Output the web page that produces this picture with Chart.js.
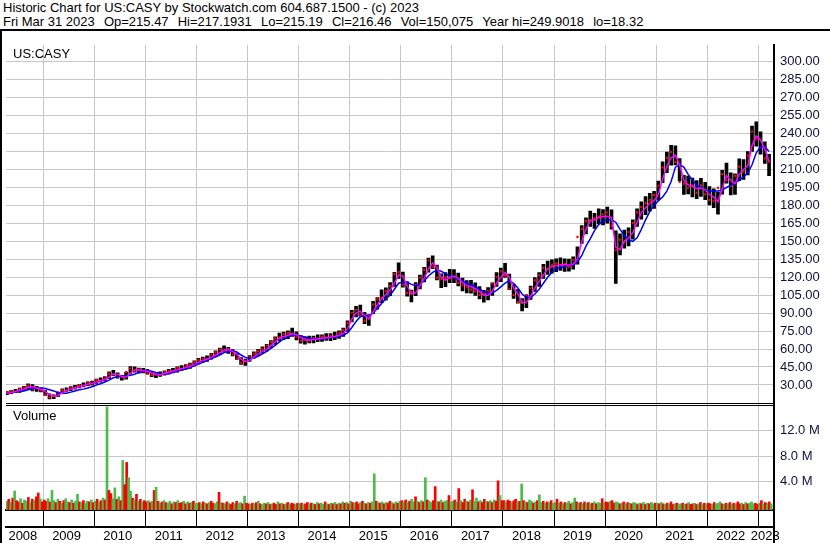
<!doctype html>
<html lang="en">
<head>
<meta charset="utf-8">
<title>Historic Chart for US:CASY</title>
<script src="https://cdn.jsdelivr.net/npm/chart.js@4.4.1/dist/chart.umd.min.js"></script>
<style>
  html, body { margin: 0; padding: 0; background: #fff; }
  body { width: 830px; height: 543px; overflow: hidden; font-family: "Liberation Sans", Arial, sans-serif; }
  #hdr { height: 31px; box-sizing: border-box; border-bottom: 2px solid #000; padding: 1px 0 0 3px;
         font-size: 13px; line-height: 14px; color: #000; white-space: nowrap; }
  #hdr .f { margin-right: 5.5px; }
  #wrap { border-left: 2px solid #000; width: 828px; height: 512px; }
  canvas { display: block; }
</style>
</head>
<body>
<div id="hdr">
  <div>Historic Chart for US:CASY by Stockwatch.com 604.687.1500 - (c) 2023</div>
  <div><span class="f">Fri Mar 31 2023</span> <span class="f">Op=215.47</span> <span class="f">Hi=217.1931</span> <span class="f">Lo=215.19</span> <span class="f">Cl=216.46</span> <span class="f">Vol=150,075</span> <span class="f">Year hi=249.9018</span> <span class="f">lo=18.32</span></div>
</div>
<div id="wrap"><canvas id="c" width="828" height="512"></canvas></div>
<script>
// monthly bars, April 2008 .. March 2023 (one row per year)
const lows = [
  21.8, 22.6, 23.5, 23.8, 25.2, 26.3, 25.0, 24.6, 24.2,
  21.2, 18.4, 18.6, 20.3, 23.4, 24.5, 25.2, 26.4, 27.5, 28.4, 29.3, 29.8,
  31.2, 32.3, 33.4, 35.2, 37.8, 35.6, 33.9, 34.8, 39.1, 40.6, 39.8, 40.1,
  39.0, 37.0, 36.1, 37.2, 38.1, 39.0, 40.1, 40.7, 41.9, 43.0, 43.8, 45.9,
  47.6, 48.8, 49.7, 51.6, 53.5, 55.4, 57.3, 56.4, 54.2, 51.3, 47.2, 46.4,
  49.6, 52.4, 54.5, 56.4, 58.3, 61.0, 63.9, 66.8, 67.8, 68.7, 70.5, 67.6,
  64.8, 64.0, 65.1, 65.2, 66.1, 66.3, 67.2, 67.0, 67.9, 68.8, 70.6, 74.8,
  82.6, 86.8, 87.4, 81.2, 79.8, 89.6, 93.4, 98.7, 100.8, 104.6, 112.3, 119.1,
  111.6, 104.2, 99.4, 104.6, 110.3, 116.1, 124.2, 127.2, 117.8, 111.3, 112.1, 115.4,
  115.4, 112.8, 108.6, 106.9, 106.7, 104.8, 101.9, 99.1, 101.0, 104.8, 112.4, 116.3,
  119.8, 109.6, 102.3, 98.4, 91.8, 94.6, 101.4, 108.2, 112.3, 119.1, 122.4, 123.5,
  124.6, 125.7, 124.8, 125.1, 126.8, 130.9, 148.2, 156.1, 162.4, 160.8, 164.6, 163.8,
  165.2, 160.1, 114.8, 138.6, 144.3, 146.2, 151.8, 162.4, 168.6, 172.3, 175.2, 177.4,
  184.3, 199.1, 207.4, 213.6, 213.8, 200.4, 189.3, 189.6, 187.2, 185.7, 187.6, 184.8,
  180.4, 178.1, 172.6, 189.4, 198.5, 188.7, 189.3, 200.6, 201.8, 205.4, 225.2, 229.6,
  222.8, 215.1, 204.9
];
const highs = [
  24.5, 25.4, 26.4, 27.3, 28.8, 30.9, 30.2, 28.8, 27.6,
  25.4, 22.6, 21.8, 24.1, 26.7, 27.6, 28.6, 29.7, 30.6, 31.8, 32.6, 33.2,
  34.8, 35.9, 37.0, 41.0, 42.3, 40.2, 38.1, 40.8, 45.3, 45.1, 44.0, 43.9,
  43.0, 41.2, 40.0, 40.9, 41.8, 43.0, 43.9, 45.2, 46.2, 47.1, 48.2, 50.2,
  52.3, 53.3, 54.4, 56.5, 58.6, 60.7, 62.6, 61.5, 59.6, 56.6, 52.8, 51.6,
  54.5, 57.7, 59.8, 61.8, 63.9, 67.1, 70.2, 73.3, 74.2, 75.3, 77.6, 74.3,
  71.2, 70.1, 70.9, 70.9, 71.9, 71.8, 72.9, 73.0, 74.1, 75.3, 77.5, 83.6,
  92.4, 95.6, 96.8, 90.7, 88.6, 99.8, 102.9, 109.4, 111.2, 115.6, 124.1, 132.0,
  124.3, 116.1, 109.2, 115.6, 121.8, 128.3, 136.1, 137.8, 130.1, 122.8, 123.9, 126.6,
  126.5, 123.4, 119.3, 117.2, 117.4, 115.3, 112.2, 109.0, 111.3, 115.3, 123.8, 127.6,
  131.6, 122.6, 113.8, 109.6, 102.1, 105.4, 112.7, 119.8, 123.9, 130.8, 133.4, 134.6,
  135.3, 136.2, 135.4, 135.2, 137.1, 145.4, 163.1, 169.7, 175.3, 173.4, 177.2, 176.5,
  178.6, 176.4, 158.7, 156.3, 159.4, 161.3, 167.9, 177.2, 183.1, 187.4, 190.2, 191.8,
  200.3, 216.4, 224.6, 230.2, 229.8, 219.2, 205.1, 204.6, 202.9, 200.8, 202.6, 199.4,
  195.7, 193.8, 191.2, 209.3, 215.4, 207.2, 206.4, 218.9, 218.4, 225.1, 246.3, 249.9,
  241.6, 233.2, 222.7
];
const closes = [
  23.6, 24.9, 24.1, 26.8, 27.9, 29.4, 26.3, 27.2, 25.3,
  21.9, 19.5, 21.1, 23.6, 25.8, 25.2, 28.1, 27.4, 30.0, 29.1, 32.0, 31.0,
  34.1, 33.6, 36.2, 39.5, 38.9, 36.4, 36.8, 40.7, 43.6, 41.5, 42.8, 41.2,
  39.8, 38.2, 39.4, 38.6, 40.8, 41.9, 41.3, 44.2, 43.4, 46.1, 47.0, 49.3,
  50.8, 52.1, 51.3, 55.2, 57.4, 59.6, 58.7, 60.2, 55.4, 52.1, 48.5, 50.3,
  53.8, 56.2, 58.4, 60.1, 62.7, 65.8, 68.9, 69.5, 72.6, 73.4, 72.1, 69.8,
  66.9, 68.4, 67.1, 69.2, 68.3, 70.4, 69.1, 71.3, 70.2, 73.6, 75.8, 81.9,
  90.3, 92.8, 88.4, 83.7, 87.9, 97.2, 101.6, 103.1, 108.4, 112.7, 122.6, 124.3,
  113.8, 106.7, 107.9, 113.4, 119.8, 126.4, 134.2, 128.9, 119.6, 118.4, 120.1, 119.2,
  119.7, 115.3, 113.1, 111.4, 109.6, 108.2, 105.3, 106.1, 108.7, 114.8, 120.4, 124.9,
  121.3, 110.4, 105.2, 99.3, 98.6, 104.9, 110.8, 117.4, 121.6, 127.8, 126.9, 130.4,
  131.6, 129.8, 131.2, 128.9, 134.6, 153.7, 160.4, 166.9, 167.8, 169.5, 170.8, 172.4,
  174.1, 162.8, 142.6, 151.3, 149.7, 157.8, 165.4, 174.2, 178.6, 181.9, 184.4, 188.6,
  196.4, 211.8, 219.7, 224.8, 216.3, 199.6, 198.2, 194.8, 196.6, 190.7, 196.9, 189.3,
  184.6, 183.8, 194.7, 206.3, 201.2, 196.1, 204.8, 212.4, 207.9, 221.6, 241.8, 235.4,
  228.4, 219.3, 216.46
];
// short (magenta) and long (blue) averages as drawn
const maFast = [
  23, 23.5, 24.5, 25.5, 26.5, 28, 28.5, 27.5, 26.5,
  24.5, 22, 20.5, 21, 23.5, 25.5, 26.5, 27.5, 28.5, 29.5, 30.5, 31.5,
  32.5, 33.5, 34.5, 36.5, 39, 39, 37, 36.5, 40, 42.5, 42.5, 42,
  41.5, 40, 38.5, 38.5, 39.5, 40.5, 41.5, 42.5, 43.5, 44.5, 45.5, 47,
  49, 50.5, 51.5, 53, 55, 57, 59, 59.5, 58, 55.5, 51.5, 49.5,
  50.5, 53.5, 56, 58, 60, 63, 66, 69, 70.5, 71.5, 73, 72,
  69.5, 67.5, 67.5, 68, 68.5, 69, 69.5, 70, 70.5, 71.5, 73, 77,
  85, 90, 91.5, 88, 85, 91, 97, 102, 105.5, 109, 115, 122,
  121, 113, 106, 107, 113, 119, 127, 132, 128, 120, 117.5, 120,
  121, 119, 115.5, 113, 112, 110.5, 108, 105, 105, 108.5, 115, 120,
  124, 120, 111, 106, 99, 99, 104, 111, 116.5, 122, 127, 129,
  129.5, 130.5, 130.5, 130, 131, 135, 150, 160, 167, 168, 170, 170.5,
  171, 170, 145, 143, 150, 153, 157, 166, 174, 178, 182, 184,
  189, 202, 213, 220, 222, 214, 201, 197, 196, 194, 194.5, 193,
  189, 187, 183, 194, 205, 201, 198, 206, 210, 213, 230, 238,
  235, 227, 217
];
const maSlow = [
  23, 23.5, 24, 24.5, 25, 26, 27, 27.5, 27.5,
  27, 26, 25, 23.5, 23, 23, 24, 25, 26, 26.5, 27.5, 28.5,
  30, 31, 32.5, 34, 36, 37, 37.5, 37.5, 38, 39, 40.5, 41.5,
  42, 41.5, 40.5, 39.5, 39, 39.5, 40.5, 41.5, 42.5, 43.5, 44.5, 46,
  47.5, 49, 50.5, 52, 53.5, 55, 57, 58, 58.5, 57.5, 55, 53,
  52, 52.5, 54, 56, 58, 60.5, 63, 66, 68.5, 70, 71.5, 72,
  71, 70, 69, 68.5, 68.5, 68.5, 69, 69.5, 70, 70.5, 71.5, 73.5,
  78, 83, 87, 88, 88, 90, 94, 98, 102, 105, 110, 115,
  116, 116, 114, 113, 114, 117, 121, 124, 126, 125, 123, 121,
  120, 118, 117, 115, 114, 112, 110, 108, 107, 107, 109, 112,
  115, 117, 115, 111, 106, 103, 103, 106, 110, 115, 120, 124,
  127, 128, 129, 130, 130, 133, 138, 146, 152, 159, 164, 167,
  168, 168, 166, 160, 155, 151, 150, 153, 160, 168, 175, 180,
  184, 187, 192, 200, 212, 214, 212, 206, 201, 197, 195, 193,
  192, 192, 192, 193, 195, 197, 199, 201, 204, 207, 214, 224,
  229, 229, 225
];
// volume in millions, two-week bars from April 2008; g = up, r = down
const volumes = [
  0.9, 1.2, 0.7, 1.4, 2.5, 1.0, 0.8, 1.3, 0.6, 1.1, 0.9, 1.5, 0.7, 1.2, 1.0, 1.6, 2.2, 1.3, 0.8,
  1.1, 0.9, 1.3, 0.8, 2.6, 1.0, 0.7, 1.2, 0.9, 0.6, 1.0, 1.3, 0.8, 0.7, 1.1, 0.6, 0.9, 2.0, 0.8, 0.7, 1.0, 0.6, 0.9, 0.8, 1.1, 0.7,
  0.9, 1.2, 0.8, 1.0, 1.4, 1.1, 15.7, 2.6, 2.1, 1.3, 3.0, 1.2, 1.6, 1.0, 7.3, 3.5, 7.0, 4.6, 2.5, 1.4, 1.1, 2.0, 0.9, 1.2, 0.8, 1.0,
  0.8, 1.0, 0.7, 0.9, 2.6, 3.1, 0.9, 0.6, 0.8, 1.0, 0.7, 0.6, 0.9, 0.5, 0.8, 0.7, 1.0, 0.6, 0.7, 0.9, 0.5, 0.8, 0.6, 0.7, 0.9, 0.6,
  0.6, 0.7, 0.5, 0.8, 0.6, 0.5, 0.7, 0.9, 0.6, 0.5, 0.8, 2.3, 0.7, 0.6, 0.5, 0.8, 0.6, 0.4, 0.7, 0.5, 0.9, 0.6, 0.7, 0.5, 1.7, 0.6,
  0.5, 0.4, 0.6, 0.5, 0.7, 0.9, 0.5, 0.4, 0.6, 0.5, 0.7, 0.4, 0.5, 0.6, 0.4, 0.8, 0.5, 0.6, 0.4, 0.5, 0.7, 0.4, 0.6, 0.5, 0.4, 0.6,
  0.5, 0.6, 0.4, 0.5, 0.7, 0.4, 0.6, 0.5, 0.4, 0.7, 0.5, 0.6, 0.4, 0.8, 0.5, 0.4, 0.6, 0.5, 0.7, 0.4, 0.6, 0.5, 0.8, 0.6, 0.7, 0.5,
  0.9, 0.7, 0.6, 0.8, 0.5, 0.7, 0.9, 0.6, 0.5, 0.7, 0.6, 0.8, 5.2, 0.9, 0.7, 0.6, 0.8, 0.5, 0.7, 0.6, 0.9, 0.7, 0.5, 0.8, 0.6, 0.9,
  1.0, 0.8, 1.1, 0.7, 0.9, 1.2, 0.8, 1.6, 0.9, 0.7, 1.0, 0.8, 4.6, 1.1, 0.9, 0.7, 1.0, 3.2, 0.9, 0.8, 1.1, 0.7, 0.9, 1.0, 1.8, 0.8,
  0.9, 1.1, 0.8, 2.9, 1.0, 0.7, 1.2, 0.9, 0.8, 1.1, 2.7, 0.9, 1.4, 0.8, 1.0, 0.7, 1.2, 0.9, 0.8, 1.0, 0.7, 1.1, 0.9, 4.1, 1.8, 1.0,
  1.0, 0.8, 1.1, 0.9, 0.7, 1.0, 1.2, 0.8, 0.9, 3.6, 1.0, 0.8, 0.7, 1.1, 0.9, 0.6, 0.8, 1.0, 1.9, 0.7, 0.9, 0.6, 0.8, 0.7, 1.0, 0.6,
  0.7, 1.2, 0.6, 0.8, 0.5, 0.7, 0.6, 0.9, 0.5, 0.7, 1.4, 0.8, 0.6, 0.7, 0.5, 0.8, 0.6, 0.7, 0.5, 0.6, 0.8, 0.5, 0.7, 0.6, 1.3, 0.7,
  0.8, 0.7, 0.9, 1.0, 0.6, 0.8, 0.7, 0.5, 0.6, 0.8, 0.5, 0.7, 0.6, 0.5, 0.7, 0.6, 0.4, 0.6, 0.5, 0.7, 0.4, 0.6, 0.5, 0.7, 0.5, 0.6,
  0.6, 0.5, 0.7, 0.5, 0.4, 0.6, 0.5, 0.8, 0.4, 0.5, 0.6, 0.4, 0.5, 0.6, 0.4, 0.5, 0.7, 0.4, 0.5, 0.6, 0.4, 0.5, 0.7, 0.4, 0.6, 0.5,
  0.6, 0.5, 0.4, 0.7, 0.5, 0.6, 0.8, 0.5, 0.4, 0.6, 0.5, 0.7, 0.4, 0.6, 0.5, 0.8, 0.5, 0.6, 0.4, 0.7, 0.5, 0.6, 0.8, 0.5, 0.6, 0.4,
  0.6, 1.0, 0.5, 0.7, 0.6, 0.8, 0.5
];
const volDir =
  'grgrgrrgrggrgrgrrgr' +
  'rrgrggrgrgrggrgrggrgrggrgr' +
  'grgrgrgrrggrgrgrrggrgrgrgr' +
  'rgrgrgrgrgrggrgrgrrgrgrgrg' +
  'grgrgrgrrggrgrgrgrrgrggrgr' +
  'rgrgrgrggrgrgrrgrgrgrgrrgr' +
  'grgrrgrgrgrggrgrgrgrgrgrgr' +
  'grgrrgrgrgrggrgrgrgrrgrgrg' +
  'rgrgrggrgrgrgrggrrgrgrggrg' +
  'grgrgrrgrgrggrgrrgrgrgrrgr' +
  'rgrrgrrgrgrgrggrgrggrgrgrg' +
  'grgrgrggrggrgrgrgrgrgrggrg' +
  'rrgrrggrgrgrgrggrgrgrgrggr' +
  'grgrgrgrrgrggrgrgrrgrgrgrg' +
  'rrgrgggrgrgrgrgrrgrgrgggrr' +
  'grgrgrg';

const years = [2008, 2009, 2010, 2011, 2012, 2013, 2014, 2015, 2016, 2017, 2018, 2019, 2020, 2021, 2022, 2023];
const priceTicks = [30, 45, 60, 75, 90, 105, 120, 135, 150, 165, 180, 195, 210, 225, 240, 255, 270, 285, 300];
const volTicks = [4, 8, 12];

const X_MIN = 2008.274, X_MAX = 2023.305;
const MONTH0 = 2008 + 3 / 12;   // first bar: April 2008
const VOL0 = 2008.27;           // first volume bar
const FONT = '"Liberation Sans", Arial, sans-serif';
const GREEN = '#4cbb4c', RED = '#ff0000';

const monthX = (k) => MONTH0 + (k + 0.5) / 12;
const volX = (i) => VOL0 + (i + 0.5) / 26;

const rangePts = lows.map((lo, k) => ({ x: monthX(k), y: [lo, highs[k]] }));
const closePts = closes.map((v, k) => ({ x: monthX(k), y: v }));
const fastPts = maFast.map((v, k) => ({ x: monthX(k), y: v }));
const slowPts = maSlow.map((v, k) => ({ x: monthX(k), y: v }));
const volPts = volumes.map((v, i) => ({ x: volX(i), y: v }));
const volColors = volDir.split('').map((c) => (c === 'g' ? GREEN : RED));

const yearLabelPos = years.map((y) => Math.min(Math.max(y + 0.46, X_MIN + 0.33), X_MAX - 0.17));

// panel dividers, right frame below the plot, panel captions
const decor = {
  id: 'decor',
  afterDraw(chart) {
    const { ctx, chartArea: a, scales } = chart;
    const b = Math.round(scales.y.bottom);
    ctx.save();
    ctx.fillStyle = '#000';
    ctx.fillRect(a.left, b - 1, a.right - a.left, 1);
    ctx.fillRect(a.left, b + 1, a.right - a.left, 1);
    ctx.fillRect(a.right - 1, a.bottom, 2, chart.height - a.bottom);
    ctx.font = '13px ' + FONT;
    ctx.textBaseline = 'top';
    ctx.fillText('US:CASY', a.left + 7, scales.y.top + 3);
    ctx.fillText('Volume', a.left + 7, scales.yv.top + 6);
    ctx.restore();
  },
};

Chart.defaults.font.family = FONT;
Chart.defaults.font.size = 13;
Chart.defaults.color = '#000';

new Chart(document.getElementById('c'), {
  type: 'bar',
  data: {
    datasets: [
      { type: 'line', data: fastPts, borderColor: '#ff00ff', borderWidth: 1.5, pointRadius: 0, tension: 0, yAxisID: 'y', order: 0 },
      { type: 'line', data: slowPts, borderColor: '#0000ff', borderWidth: 1.5, pointRadius: 0, tension: 0, yAxisID: 'y', order: 1 },
      { type: 'line', data: closePts, showLine: false, pointStyle: 'rect', pointRadius: 1.5, pointBorderWidth: 0,
        pointBackgroundColor: RED, yAxisID: 'y', order: 2 },
      { type: 'bar', data: rangePts, backgroundColor: '#000', barThickness: 3, grouped: false, yAxisID: 'y', order: 3 },
      { type: 'bar', data: volPts, backgroundColor: volColors, barThickness: 2, grouped: false, base: -0.47, yAxisID: 'yv', order: 4 },
    ],
  },
  options: {
    responsive: false,
    animation: false,
    events: [],
    layout: { padding: { top: 1, left: 0, right: 0, bottom: 0 } },
    plugins: { legend: { display: false }, tooltip: { enabled: false } },
    scales: {
      x: {
        type: 'linear', position: 'bottom', min: X_MIN, max: X_MAX, offset: false,
        afterBuildTicks: (s) => { s.ticks = years.slice(1).map((v) => ({ value: v })); },
        ticks: { display: false, autoSkip: false },
        grid: { color: '#c8c8c8', tickColor: '#000', drawTicks: true, tickLength: 16, offset: false },
        border: { color: '#000', width: 2 },
        afterFit: (s) => { s.height = 17; },
      },
      xl: {
        type: 'linear', position: 'bottom', min: X_MIN, max: X_MAX, offset: false,
        afterBuildTicks: (s) => { s.ticks = yearLabelPos.map((v) => ({ value: v })); },
        ticks: { callback: (v, i) => String(years[i]), autoSkip: false, maxRotation: 0, padding: 2, font: { size: 13 } },
        grid: { display: false, drawTicks: false, offset: false },
        border: { display: true, color: '#000', width: 2 },
        afterFit: (s) => { s.height = 16; },
      },
      y: {
        position: 'right', stack: 'panels', stackWeight: 369, min: 14.14, max: 314.23,
        afterBuildTicks: (s) => { s.ticks = priceTicks.map((v) => ({ value: v })); },
        ticks: { callback: (v) => v.toFixed(2), padding: 6, color: '#101040', autoSkip: false },
        grid: { color: '#c8c8c8', drawTicks: false },
        border: { color: '#000', width: 2 },
        afterFit: (s) => { s.width = 56; },
      },
      yv: {
        position: 'right', stack: 'panels', stackWeight: 109, min: -0.47, max: 16.17,
        afterBuildTicks: (s) => { s.ticks = volTicks.map((v) => ({ value: v })); },
        ticks: { callback: (v) => v.toFixed(1) + ' M', padding: 6, color: '#101040', autoSkip: false },
        grid: { color: '#c8c8c8', drawTicks: false },
        border: { color: '#000', width: 2 },
        afterFit: (s) => { s.width = 56; },
      },
    },
  },
  plugins: [decor],
});
</script>
</body>
</html>
